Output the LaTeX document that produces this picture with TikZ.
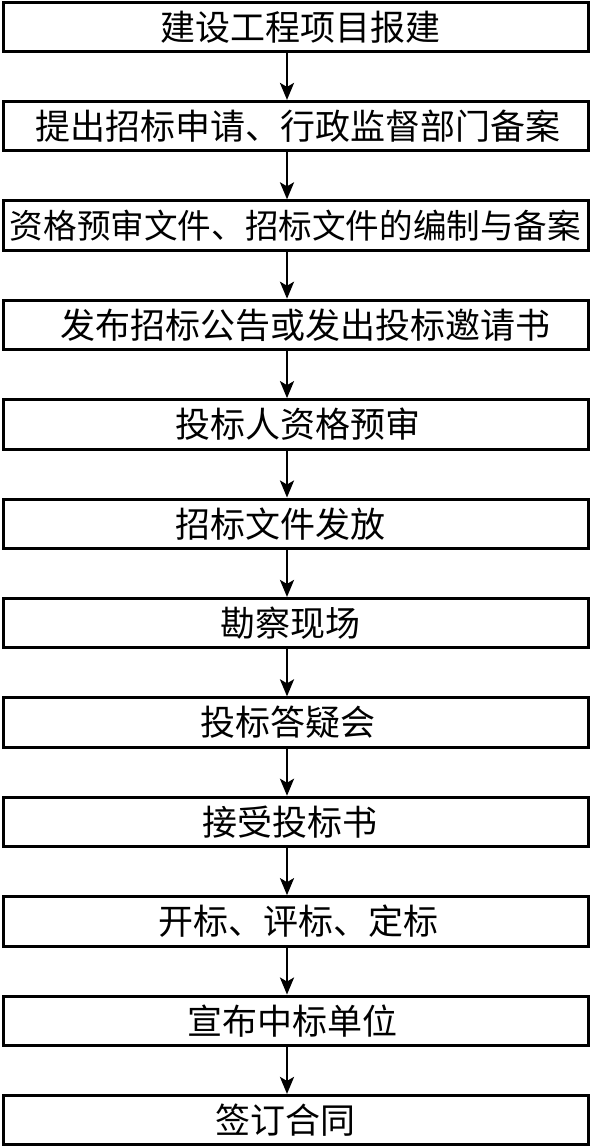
\documentclass[tikz,border=0pt]{standalone}
\usepackage{fontspec}
\newfontfamily\cjk{Noto Sans CJK SC}
\usetikzlibrary{arrows.meta}
\newcommand{\shiftedtext}[2]{\hbox to 0pt{\hss\kern#1\relax #2\hss}}
\begin{document}
\begin{tikzpicture}[x=1pt,y=-1pt,
  stepbox/.style={draw=black,line width=3pt,rectangle,minimum width=585pt,minimum height=49.5pt,inner sep=0pt,font=\cjk\fontsize{35}{40}\selectfont},
  arr/.style={line width=2.6pt,-{Stealth[length=17pt,width=14pt,inset=4pt]}}]
\useasboundingbox (0,0) rectangle (592,1147);
\fill[white] (0,0) rectangle (592,1147);
\def\cx{295.5}
\node[stepbox] (b1) at (\cx,26.8+0*99.4) {\shiftedtext{9pt}{建设工程项目报建}};
\node[stepbox] (b2) at (\cx,26.8+1*99.4) {\shiftedtext{5pt}{提出招标申请、行政监督部门备案}};
\node[stepbox,font=\cjk\fontsize{33.6}{40}\selectfont] (b3) at (\cx,26.8+2*99.4) {\shiftedtext{0pt}{资格预审文件、招标文件的编制与备案}};
\node[stepbox] (b4) at (\cx,26.8+3*99.4) {\shiftedtext{20pt}{发布招标公告或发出投标邀请书}};
\node[stepbox] (b5) at (\cx,26.8+4*99.4) {\shiftedtext{5pt}{投标人资格预审}};
\node[stepbox] (b6) at (\cx,26.8+5*99.4) {\shiftedtext{-31pt}{招标文件发放}};
\node[stepbox] (b7) at (\cx,26.8+6*99.4) {\shiftedtext{-11pt}{勘察现场}};
\node[stepbox] (b8) at (\cx,26.8+7*99.4) {\shiftedtext{-15pt}{投标答疑会}};
\node[stepbox] (b9) at (\cx,26.8+8*99.4) {\shiftedtext{-11pt}{接受投标书}};
\node[stepbox] (b10) at (\cx,26.8+9*99.4) {\shiftedtext{5pt}{开标、评标、定标}};
\node[stepbox] (b11) at (\cx,26.8+10*99.4) {\shiftedtext{-7pt}{宣布中标单位}};
\node[stepbox] (b12) at (\cx,26.8+11*99.4) {\shiftedtext{-21pt}{签订合同}};
\foreach \a/\b in {b1/b2,b2/b3,b3/b4,b4/b5,b5/b6,b6/b7,b7/b8,b8/b9,b9/b10,b10/b11,b11/b12}{
  \draw[arr] ([xshift=-8.5pt]\a.south) -- ([xshift=-8.5pt]\b.north);
}
\end{tikzpicture}
\end{document}
